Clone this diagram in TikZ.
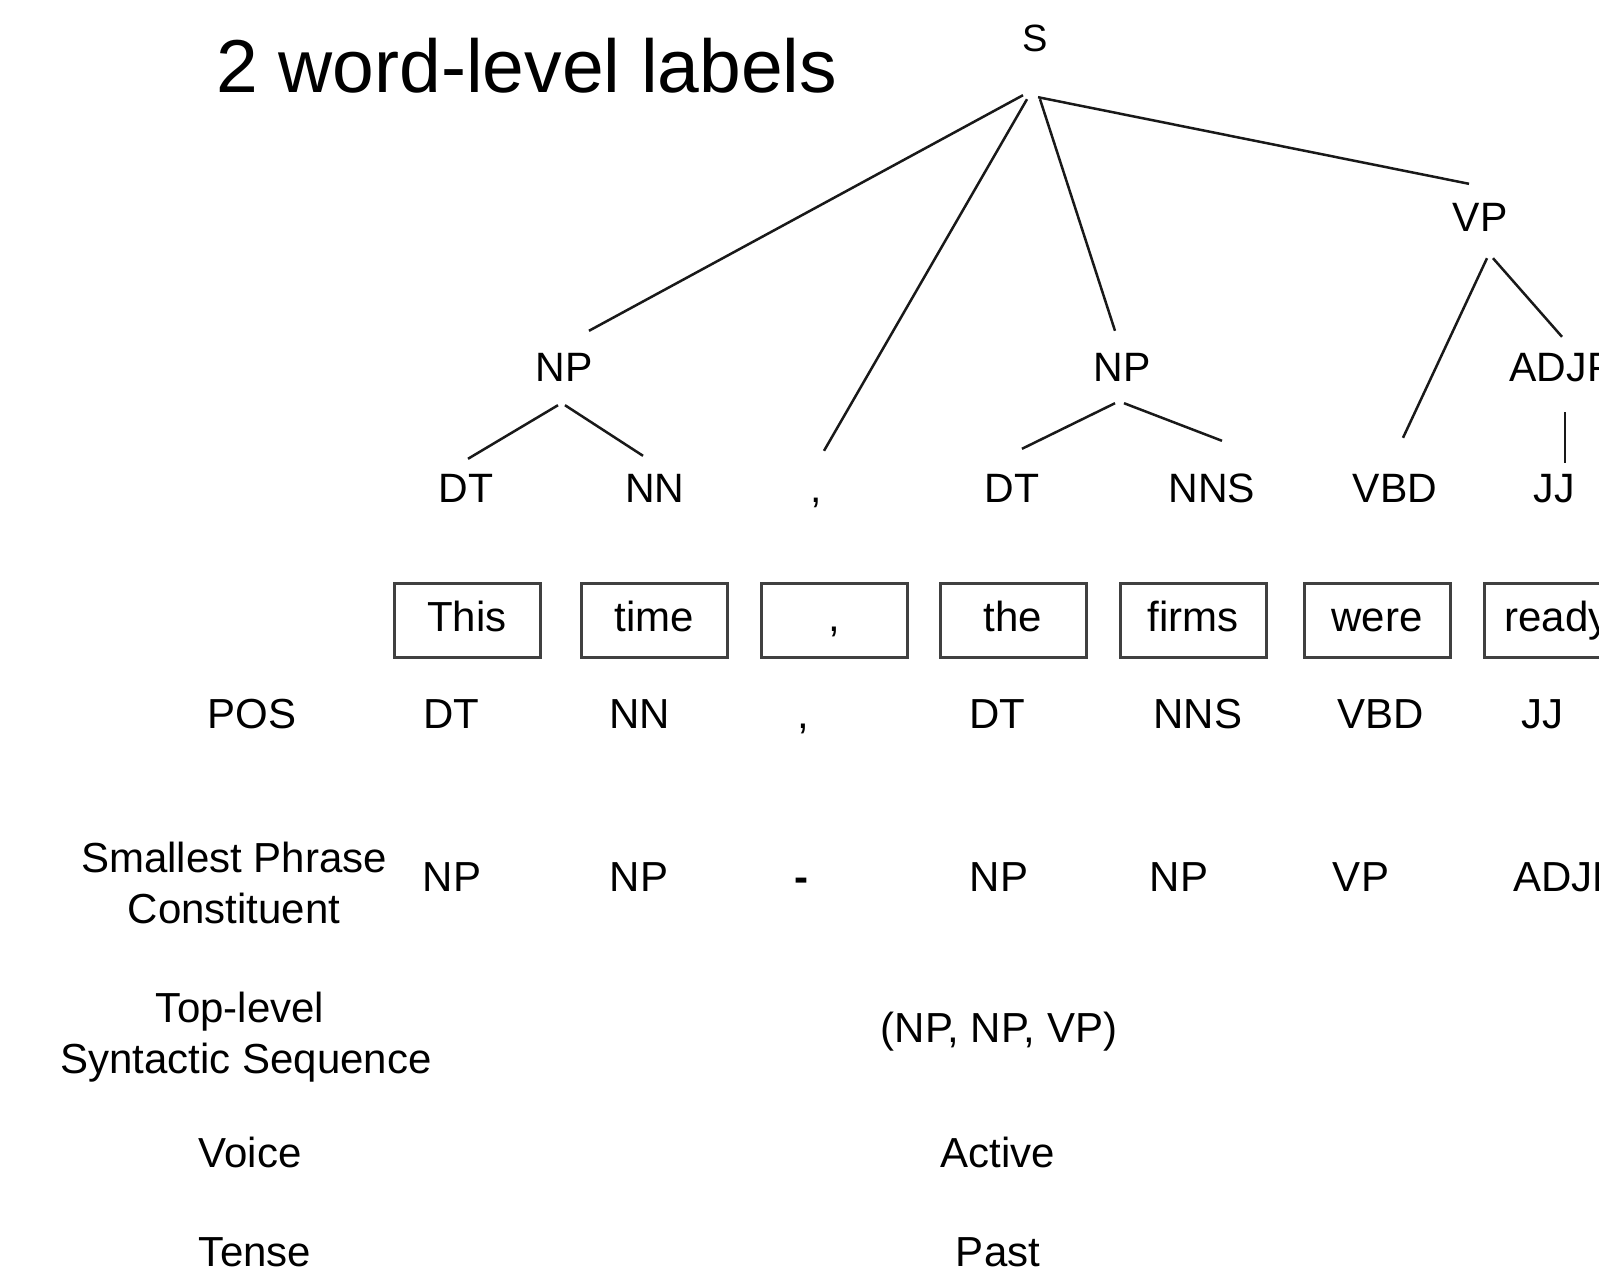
\documentclass[tikz,border=0pt]{standalone}
\usepackage{fontspec}
\setmainfont{Liberation Sans}
\begin{document}
\begin{tikzpicture}[x=1pt,y=-1pt,
  txt/.style={font=\fontsize{42}{50}\selectfont, inner sep=0pt, text height=30pt, text depth=0pt, anchor=base},
  tree/.style={font=\fontsize{41}{48}\selectfont, inner sep=0pt, text height=30pt, text depth=0pt, anchor=base},
  wbox/.style={draw=black!75, line width=3pt, minimum width=146pt, minimum height=74pt, inner sep=0pt,
    font=\fontsize{42}{50}\selectfont, text height=30pt, text depth=8pt},
  edge/.style={line width=2.5pt, black!90}]
\useasboundingbox (0,0) rectangle (1599,1282);
\clip (0,0) rectangle (1599,1282);
\fill[white] (0,0) rectangle (1599,1282);

% title
\node[font=\fontsize{75}{80}\selectfont, inner sep=0pt, anchor=base west] (title) at (216,92) {2 word-level labels};

% tree
\node[tree, font=\fontsize{38}{44}\selectfont] (S) at (1035,51) {S};
\node[tree] (VP) at (1480,231) {VP};
\node[tree] (NPa) at (564,381) {NP};
\node[tree] (NPb) at (1122,381) {NP};
\node[tree] (ADJP) at (1562,381) {ADJP};
\node[tree] (DTa) at (466,502) {DT};
\node[tree] (NNa) at (655,502) {NN};
\node[tree] (CMa) at (816,502) {,};
\node[tree] (DTb) at (1012,502) {DT};
\node[tree] (NNSa) at (1212,502) {NNS};
\node[tree] (VBDa) at (1395,502) {VBD};
\node[tree] (JJa) at (1554,502) {JJ};

\draw[edge] ([shift={(-12,44)}]S.south) -- ([shift={(25,-20)}]NPa.north);
\draw[edge] ([shift={(-8,48)}]S.south) -- ([shift={(8,-21)}]CMa.north);
\draw[edge] ([shift={(5,48)}]S.south) -- ([shift={(-7,-20)}]NPb.north);
\draw[edge] ([shift={(3,46)}]S.south) -- ([shift={(-11,-17)}]VP.north);
\draw[edge] ([shift={(-6,24)}]NPa.south) -- ([shift={(2,-13)}]DTa.north);
\draw[edge] ([shift={(1,24)}]NPa.south) -- ([shift={(-12,-16)}]NNa.north);
\draw[edge] ([shift={(-7,22)}]NPb.south) -- ([shift={(10,-23)}]DTb.north);
\draw[edge] ([shift={(2,22)}]NPb.south) -- ([shift={(10,-31)}]NNSa.north);
\draw[edge] ([shift={(7,27)}]VP.south) -- ([shift={(8,-34)}]VBDa.north);
\draw[edge] ([shift={(13,27)}]VP.south) -- ([shift={(0,-14)}]ADJP.north);
\draw[edge] ([shift={(3,31)}]ADJP.south) -- ([shift={(11,-9)}]JJa.north);

% word boxes
\node[wbox] (w1) at (467,620) {This};
\node[wbox] (w2) at (654,620) {time};
\node[wbox] (w3) at (834,620) {,};
\node[wbox] (w4) at (1013,620) {the};
\node[wbox] (w5) at (1193,620) {firms};
\node[wbox] (w6) at (1377,620) {were};
\node[wbox] (w7) at (1557,620) {ready};

% POS row
\node[txt] (posl) at (252,728) {POS};
\node[txt] (p1) at (451,728) {DT};
\node[txt] (p2) at (640,728) {NN};
\node[txt] (p3) at (803,728) {,};
\node[txt] (p4) at (997,728) {DT};
\node[txt] (p5) at (1198,728) {NNS};
\node[txt] (p6) at (1381,728) {VBD};
\node[txt] (p7) at (1542,728) {JJ};

% smallest phrase constituent row
\node[txt] (spc1) at (234,872) {Smallest Phrase};
\node[txt] (spc2) at (234,923) {Constituent};
\node[txt] (s1) at (452,891) {NP};
\node[txt] (s2) at (639,891) {NP};
\node[txt, font=\fontsize{42}{50}\bfseries] (s3) at (801,891) {-};
\node[txt] (s4) at (999,891) {NP};
\node[txt] (s5) at (1179,891) {NP};
\node[txt] (s6) at (1361,891) {VP};
\node[txt, anchor=base west] (s7) at (1513,891) {ADJP};

% top-level
\node[txt] (tl1) at (240,1022) {Top-level};
\node[txt] (tl2) at (246,1073) {Syntactic Sequence};
\node[txt] (tlv) at (999,1042) {(NP, NP, VP)};

% voice
\node[txt] (vl) at (250,1167) {Voice};
\node[txt] (vv) at (998,1167) {Active};

% tense
\node[txt] (tel) at (255,1266) {Tense};
\node[txt] (tev) at (998,1266) {Past};
\end{tikzpicture}
\end{document}
